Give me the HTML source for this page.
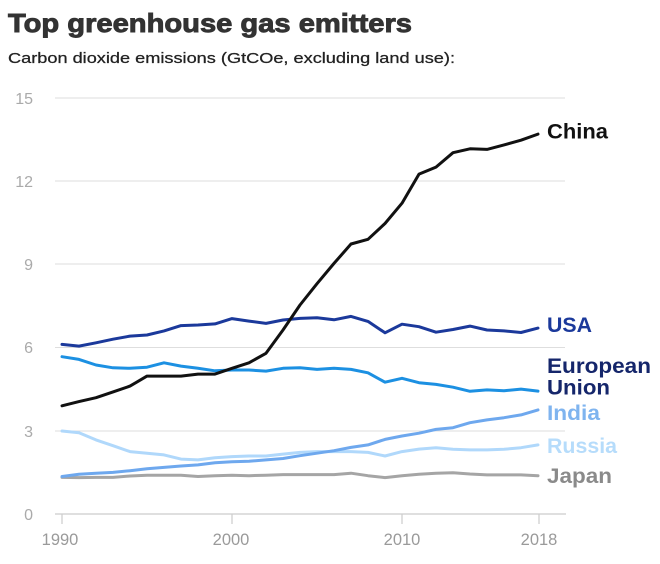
<!DOCTYPE html>
<html><head><meta charset="utf-8"><style>
html,body{margin:0;padding:0;background:#fff;}
svg{display:block;}
text{font-family:"Liberation Sans",Arial,sans-serif;}
</style></head><body>
<svg width="660" height="564" viewBox="0 0 660 564" xmlns="http://www.w3.org/2000/svg">
<rect width="660" height="564" fill="#fff"/>
<text x="8" y="32" font-size="26" font-weight="bold" fill="#333" stroke="#333" stroke-width="0.9" textLength="404" lengthAdjust="spacingAndGlyphs">Top greenhouse gas emitters</text>
<text x="8" y="63" font-size="14.5" fill="#222" stroke="#222" stroke-width="0.25" textLength="447" lengthAdjust="spacingAndGlyphs">Carbon dioxide emissions (GtCOe, excluding land use):</text>
<g stroke="#dedede" stroke-width="1">
<line x1="55" y1="98" x2="565" y2="98"/>
<line x1="55" y1="181" x2="565" y2="181"/>
<line x1="55" y1="264" x2="565" y2="264"/>
<line x1="55" y1="347.5" x2="565" y2="347.5"/>
<line x1="55" y1="431" x2="565" y2="431"/>
</g>
<line x1="55" y1="514" x2="566" y2="514" stroke="#ccc" stroke-width="1.2"/>
<g stroke="#ccc" stroke-width="1.2">
<line x1="62" y1="514" x2="62" y2="524"/>
<line x1="232" y1="514" x2="232" y2="524"/>
<line x1="402" y1="514" x2="402" y2="524"/>
<line x1="539" y1="514" x2="539" y2="524"/>
</g>
<g font-size="16" fill="#aaa" text-anchor="end">
<text x="33" y="104">15</text>
<text x="33" y="187">12</text>
<text x="33" y="270">9</text>
<text x="33" y="353">6</text>
<text x="33" y="437">3</text>
<text x="33" y="520">0</text>
</g>
<g font-size="16.5" fill="#9a9a9a" text-anchor="middle">
<text x="60" y="545">1990</text>
<text x="231" y="545">2000</text>
<text x="402" y="545">2010</text>
<text x="539" y="545">2018</text>
</g>
<g fill="none" stroke-width="3" stroke-linejoin="round" stroke-linecap="round">
<polyline stroke="#a5a5a5" points="62,477.4 79,477.6 96,477.4 113,477.4 130,476 147,475.2 164,475.2 181,475.2 198,476.5 215,475.7 232,475.2 249,475.7 266,475.2 283,474.6 300,474.6 317,474.6 334,474.6 351,473.2 368,475.7 385,477.6 402,475.7 419,474.3 436,473.2 453,472.7 470,474 487,474.9 504,474.9 521,474.9 538,475.7"/>
<polyline stroke="#b0d8fb" points="62,431 79,432.7 96,439.9 113,445.7 130,451.6 147,453.2 164,454.9 181,459.1 198,459.9 215,457.7 232,456.6 249,456 266,456 283,454.1 300,452.4 317,451.6 334,451.6 351,451.6 368,452.4 385,456 402,451.6 419,449.1 436,447.7 453,449.3 470,449.9 487,449.9 504,449.3 521,447.7 538,444.9"/>
<polyline stroke="#6ea8ee" points="62,476.5 79,474.3 96,473.2 113,472.4 130,470.7 147,468.8 164,467.4 181,466 198,464.9 215,462.7 232,461.8 249,461.3 266,459.9 283,458.5 300,455.7 317,453.2 334,450.7 351,447.4 368,444.9 385,439.4 402,436 419,433.2 436,429.4 453,427.7 470,422.7 487,419.9 504,417.7 521,414.9 538,409.9"/>
<polyline stroke="#1c90e2" points="62,356.7 79,359.4 96,365 113,367.8 130,368.3 147,367.2 164,362.8 181,366.1 198,368.3 215,370.8 232,370 249,370 266,371.1 283,368.3 300,367.8 317,369.4 334,368.3 351,369.4 368,372.8 385,382.2 402,378.3 419,382.7 436,384.4 453,387.2 470,391.3 487,389.9 504,390.8 521,389.1 538,391.1"/>
<polyline stroke="#1b399b" points="62,344.4 79,346.1 96,342.8 113,339.2 130,336.1 147,335 164,330.9 181,325.6 198,325 215,323.9 232,318.6 249,321.1 266,323.4 283,320 300,318.4 317,317.8 334,319.8 351,316.4 368,321.4 385,332.8 402,324.2 419,326.7 436,332.2 453,329.5 470,326.1 487,330 504,330.9 521,332.5 538,328.1"/>
<polyline stroke="#111" points="62,405.8 79,401.6 96,397.7 113,391.9 130,386.1 147,376.1 164,376.1 181,376.1 198,374.1 215,374.1 232,368.3 249,362.8 266,353.3 283,330 300,305 317,283.7 334,263.4 351,244 368,239.3 385,223.5 402,203.2 419,174.1 436,167.1 453,152.7 470,148.8 487,149.4 504,144.9 521,140.2 538,134.1"/>
</g>
<g font-size="21" font-weight="bold">
<text x="547" y="138.5" fill="#111" textLength="61" lengthAdjust="spacingAndGlyphs">China</text>
<text x="547" y="332" fill="#1b399b" textLength="45" lengthAdjust="spacingAndGlyphs">USA</text>
<text x="547" y="373" fill="#15266b" textLength="104" lengthAdjust="spacingAndGlyphs">European</text>
<text x="547" y="394.5" fill="#15266b" textLength="63" lengthAdjust="spacingAndGlyphs">Union</text>
<text x="547" y="420" fill="#7fb4ef" textLength="53" lengthAdjust="spacingAndGlyphs">India</text>
<text x="547" y="453" fill="#b6dcfb" textLength="70" lengthAdjust="spacingAndGlyphs">Russia</text>
<text x="547" y="483" fill="#8a8a8a" textLength="65" lengthAdjust="spacingAndGlyphs">Japan</text>
</g>
</svg>
</body></html>
